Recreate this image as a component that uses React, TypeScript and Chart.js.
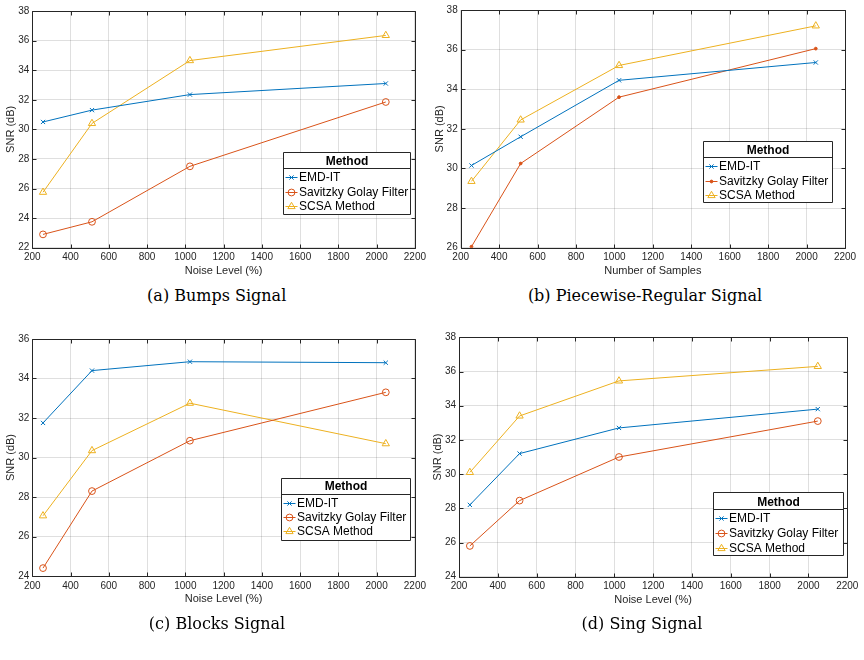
import React, { useEffect, useRef } from "react";
import { Chart, registerables } from "chart.js";

Chart.register(...registerables);

// ---------- data ----------
const sampleSizes = [256, 512, 1024, 2048];
const methodNames = ["EMD-IT", "Savitzky Golay Filter", "SCSA Method"];
const xTickMin = 200;
const xTickMax = 2200;
const xTickStep = 200;

const bumpsEmd = [30.5, 31.3, 32.35, 33.1];
const bumpsSg = [22.9, 23.75, 27.5, 31.85];
const bumpsScsa = [25.75, 30.4, 34.65, 36.35];

const piecewiseEmd = [30.15, 31.6, 34.45, 35.35];
const piecewiseSg = [26.05, 30.25, 33.6, 36.05];
const piecewiseScsa = [29.35, 32.45, 35.2, 37.2];

const blocksEmd = [31.75, 34.4, 34.85, 34.8];
const blocksSg = [24.4, 28.3, 30.85, 33.3];
const blocksScsa = [27.05, 30.35, 32.75, 30.7];

const singEmd = [28.2, 31.2, 32.7, 33.8];
const singSg = [25.8, 28.45, 31.0, 33.1];
const singScsa = [30.1, 33.4, 35.45, 36.3];

// ---------- styles ----------
const BLUE = "#0072BD";
const RED = "#D95319";
const YELLOW = "#EDB120";
const AXIS = "#262626";
const GRID = "rgba(38,38,38,0.15)";
const SANS = "'Liberation Sans', Arial, Helvetica, sans-serif";

type Panel = {
  left: number; top: number; W: number; H: number;
  area: { l: number; r: number; t: number; b: number };
  yTitleX: number; xTitleY: number; xTitle: string;
  yMin: number; yMax: number;
  series: number[][];
  sgDot?: boolean;
  legend: { x: number; y: number; w: number; h: number; sep: number; title: number; rows: number[] };
  caption: string; capX: number; capY: number;
};

const panels: Panel[] = [
  {
    left: 0, top: 0, W: 430, H: 285,
    area: { l: 32.3, r: 416, t: 11, b: 247.7 },
    yTitleX: 11, xTitleY: 271, xTitle: "Noise Level (%)",
    yMin: 22, yMax: 38,
    series: [bumpsEmd, bumpsSg, bumpsScsa],
    legend: { x: 282.7, y: 151.7, w: 127.3, h: 62, sep: 168.3, title: 161, rows: [176.7, 191.5, 205.7] },
    caption: "(a) Bumps Signal", capX: 216.7, capY: 295.7,
  },
  {
    left: 430, top: 0, W: 434, H: 285,
    area: { l: 30.7, r: 415, t: 10, b: 247.7 },
    yTitleX: 9.5, xTitleY: 271, xTitle: "Number of Samples",
    yMin: 26, yMax: 38,
    series: [piecewiseEmd, piecewiseSg, piecewiseScsa],
    sgDot: true,
    legend: { x: 272.7, y: 141.3, w: 129, h: 61.4, sep: 156.7, title: 149.7, rows: [165.7, 180.7, 195.3] },
    caption: "(b) Piecewise-Regular Signal", capX: 215, capY: 295.7,
  },
  {
    left: 0, top: 320, W: 430, H: 295,
    area: { l: 32.3, r: 417.7, t: 19, b: 256 },
    yTitleX: 11, xTitleY: 279.3, xTitle: "Noise Level (%)",
    yMin: 24, yMax: 36,
    series: [blocksEmd, blocksSg, blocksScsa],
    legend: { x: 280.7, y: 157.7, w: 128.6, h: 62.3, sep: 173.7, title: 165.7, rows: [182.7, 197, 211.3] },
    caption: "(c) Blocks Signal", capX: 217, capY: 304,
  },
  {
    left: 430, top: 320, W: 434, H: 295,
    area: { l: 29, r: 417.3, t: 17.3, b: 256.7 },
    yTitleX: 7.5, xTitleY: 280, xTitle: "Noise Level (%)",
    yMin: 24, yMax: 38,
    series: [singEmd, singSg, singScsa],
    legend: { x: 283.3, y: 172.3, w: 130, h: 62.7, sep: 189.3, title: 181.7, rows: [197.7, 212.7, 227.7] },
    caption: "(d) Sing Signal", capX: 212, capY: 304,
  },
];

function drawMarker(
  ctx: CanvasRenderingContext2D, style: string, x: number, y: number,
  r: number, color: string, filled: boolean
) {
  ctx.save();
  ctx.strokeStyle = color;
  ctx.fillStyle = color;
  ctx.lineWidth = 1;
  ctx.beginPath();
  if (style === "crossRot") {
    const d = r * 0.7071;
    ctx.moveTo(x - d, y - d); ctx.lineTo(x + d, y + d);
    ctx.moveTo(x + d, y - d); ctx.lineTo(x - d, y + d);
    ctx.stroke();
  } else if (style === "triangle") {
    for (let i = 0; i < 3; i++) {
      const a = (i * 2 * Math.PI) / 3;
      const px = x + Math.sin(a) * r;
      const py = y - Math.cos(a) * r;
      if (i === 0) ctx.moveTo(px, py); else ctx.lineTo(px, py);
    }
    ctx.closePath();
    ctx.stroke();
  } else {
    ctx.arc(x, y, r, 0, Math.PI * 2);
    if (filled) ctx.fill();
    ctx.stroke();
  }
  ctx.restore();
}

const matlabPlugin = {
  id: "matlabFrame",
  afterDraw(chart: any) {
    const { ctx, chartArea: a, scales } = chart;
    const xs = scales.x;
    const ys = scales.y;
    const L = Math.round(a.left) + 0.5;
    const R = Math.round(a.right) + 0.5;
    const T = Math.round(a.top) + 0.5;
    const B = Math.round(a.bottom) + 0.5;
    ctx.save();
    ctx.strokeStyle = AXIS;
    ctx.lineWidth = 1;
    ctx.beginPath();
    ctx.rect(L, T, R - L, B - T);
    const tl = 4;
    xs.ticks.forEach((t: any) => {
      const px = Math.round(xs.getPixelForValue(t.value)) + 0.5;
      ctx.moveTo(px, B); ctx.lineTo(px, B - tl);
      ctx.moveTo(px, T); ctx.lineTo(px, T + tl);
    });
    ys.ticks.forEach((t: any) => {
      const py = Math.round(ys.getPixelForValue(t.value)) + 0.5;
      ctx.moveTo(L, py); ctx.lineTo(L + tl, py);
      ctx.moveTo(R, py); ctx.lineTo(R - tl, py);
    });
    ctx.stroke();

    // boxed legend
    const lg = chart.options.plugins.matlabFrame.box;
    const bx = Math.round(lg.x) + 0.5;
    const by = Math.round(lg.y) + 0.5;
    const bw = Math.round(lg.w);
    const bh = Math.round(lg.h);
    ctx.fillStyle = "#ffffff";
    ctx.fillRect(bx, by, bw, bh);
    ctx.strokeStyle = AXIS;
    ctx.beginPath();
    ctx.rect(bx, by, bw, bh);
    const sy = Math.round(lg.sep) + 0.5;
    ctx.moveTo(bx, sy); ctx.lineTo(bx + bw, sy);
    ctx.stroke();
    ctx.fillStyle = "#000000";
    ctx.font = `bold 12px ${SANS}`;
    ctx.textAlign = "center";
    ctx.textBaseline = "middle";
    ctx.fillText("Method", bx + bw / 2, lg.title + 0.5);
    ctx.font = `12px ${SANS}`;
    ctx.textAlign = "left";
    chart.data.datasets.forEach((ds: any, i: number) => {
      const ry = Math.round(lg.rows[i]) + 0.5;
      ctx.strokeStyle = ds.borderColor;
      ctx.lineWidth = 1;
      ctx.beginPath();
      ctx.moveTo(bx + 2, ry); ctx.lineTo(bx + 14, ry);
      ctx.stroke();
      drawMarker(ctx, ds.pointStyle, bx + 8, ry, ds.pointRadius, ds.borderColor, ds.legendFilled);
      ctx.fillStyle = "#000000";
      ctx.fillText(ds.label, bx + 15.5, ry + 0.5);
    });
    ctx.restore();
  },
};

function PanelChart({ p }: { p: Panel }) {
  const ref = useRef<HTMLCanvasElement | null>(null);
  useEffect(() => {
    if (!ref.current) return;
    const colors = [BLUE, RED, YELLOW];
    const styles = ["crossRot", "circle", "triangle"];
    const radii = [3, 3.4, 4.2];
    const datasets = p.series.map((vals, i) => {
      const dot = i === 1 && p.sgDot;
      return {
        label: methodNames[i],
        data: sampleSizes.map((x, j) => ({ x, y: vals[j] })),
        borderColor: colors[i],
        backgroundColor: colors[i],
        borderWidth: 1,
        pointStyle: dot ? "circle" : styles[i],
        pointRadius: dot ? 1.4 : radii[i],
        pointBorderColor: colors[i],
        pointBackgroundColor: dot ? colors[i] : "rgba(0,0,0,0)",
        pointBorderWidth: 1,
        legendFilled: !!dot,
        tension: 0,
      };
    });
    const xAxisH = p.H - p.area.b;
    const yAxisW = p.area.l;
    const chart = new Chart(ref.current, {
      type: "line",
      data: { datasets } as any,
      options: {
        animation: false,
        responsive: false,
        maintainAspectRatio: false,
        devicePixelRatio: 1,
        layout: { padding: { left: 0, top: p.area.t, right: p.W - p.area.r, bottom: 0 } },
        plugins: {
          legend: { display: false },
          tooltip: { enabled: false },
          title: { display: false },
          matlabFrame: { box: p.legend },
        } as any,
        scales: {
          x: {
            type: "linear",
            min: xTickMin,
            max: xTickMax,
            ticks: {
              stepSize: xTickStep,
              color: AXIS,
              font: { size: 10, family: SANS },
              padding: 4,
              maxRotation: 0,
              autoSkip: false,
              callback: (v: any) => String(v),
            },
            grid: { color: GRID, drawTicks: false, lineWidth: 1 },
            border: { display: false },
            title: {
              display: true,
              text: p.xTitle,
              color: AXIS,
              font: { size: 11, family: SANS },
              padding: { top: 0, bottom: p.H - p.xTitleY - 6.6 },
            },
            afterFit: (s: any) => { s.height = xAxisH; },
          },
          y: {
            type: "linear",
            min: p.yMin,
            max: p.yMax,
            ticks: {
              stepSize: 2,
              color: AXIS,
              font: { size: 10, family: SANS },
              padding: 3,
              callback: (v: any) => String(v),
            },
            grid: { color: GRID, drawTicks: false, lineWidth: 1 },
            border: { display: false },
            title: {
              display: true,
              text: "SNR (dB)",
              color: AXIS,
              font: { size: 11, family: SANS },
              padding: { top: p.yTitleX - 6.6, bottom: 0 },
            },
            afterFit: (s: any) => { s.width = yAxisW; },
          },
        },
      } as any,
      plugins: [matlabPlugin as any],
    });
    return () => chart.destroy();
  }, [p]);
  return (
    <canvas
      ref={ref}
      width={p.W}
      height={p.H}
      style={{ position: "absolute", left: p.left, top: p.top, width: p.W, height: p.H }}
    />
  );
}

export default function App() {
  return (
    <div
      style={{
        position: "absolute",
        left: 0,
        top: 0,
        width: 864,
        height: 660,
        background: "#ffffff",
        overflow: "hidden",
      }}
    >
      {panels.map((p, i) => (
        <PanelChart key={i} p={p} />
      ))}
      {panels.map((p, i) => (
        <div
          key={"c" + i}
          style={{
            position: "absolute",
            left: p.left + p.capX - 160,
            top: p.top + p.capY - 10,
            width: 320,
            height: 20,
            lineHeight: "20px",
            textAlign: "center",
            fontFamily: "'DejaVu Serif', 'Liberation Serif', serif",
            fontSize: 16,
            color: "#000",
            whiteSpace: "nowrap",
          }}
        >
          {p.caption}
        </div>
      ))}
    </div>
  );
}
